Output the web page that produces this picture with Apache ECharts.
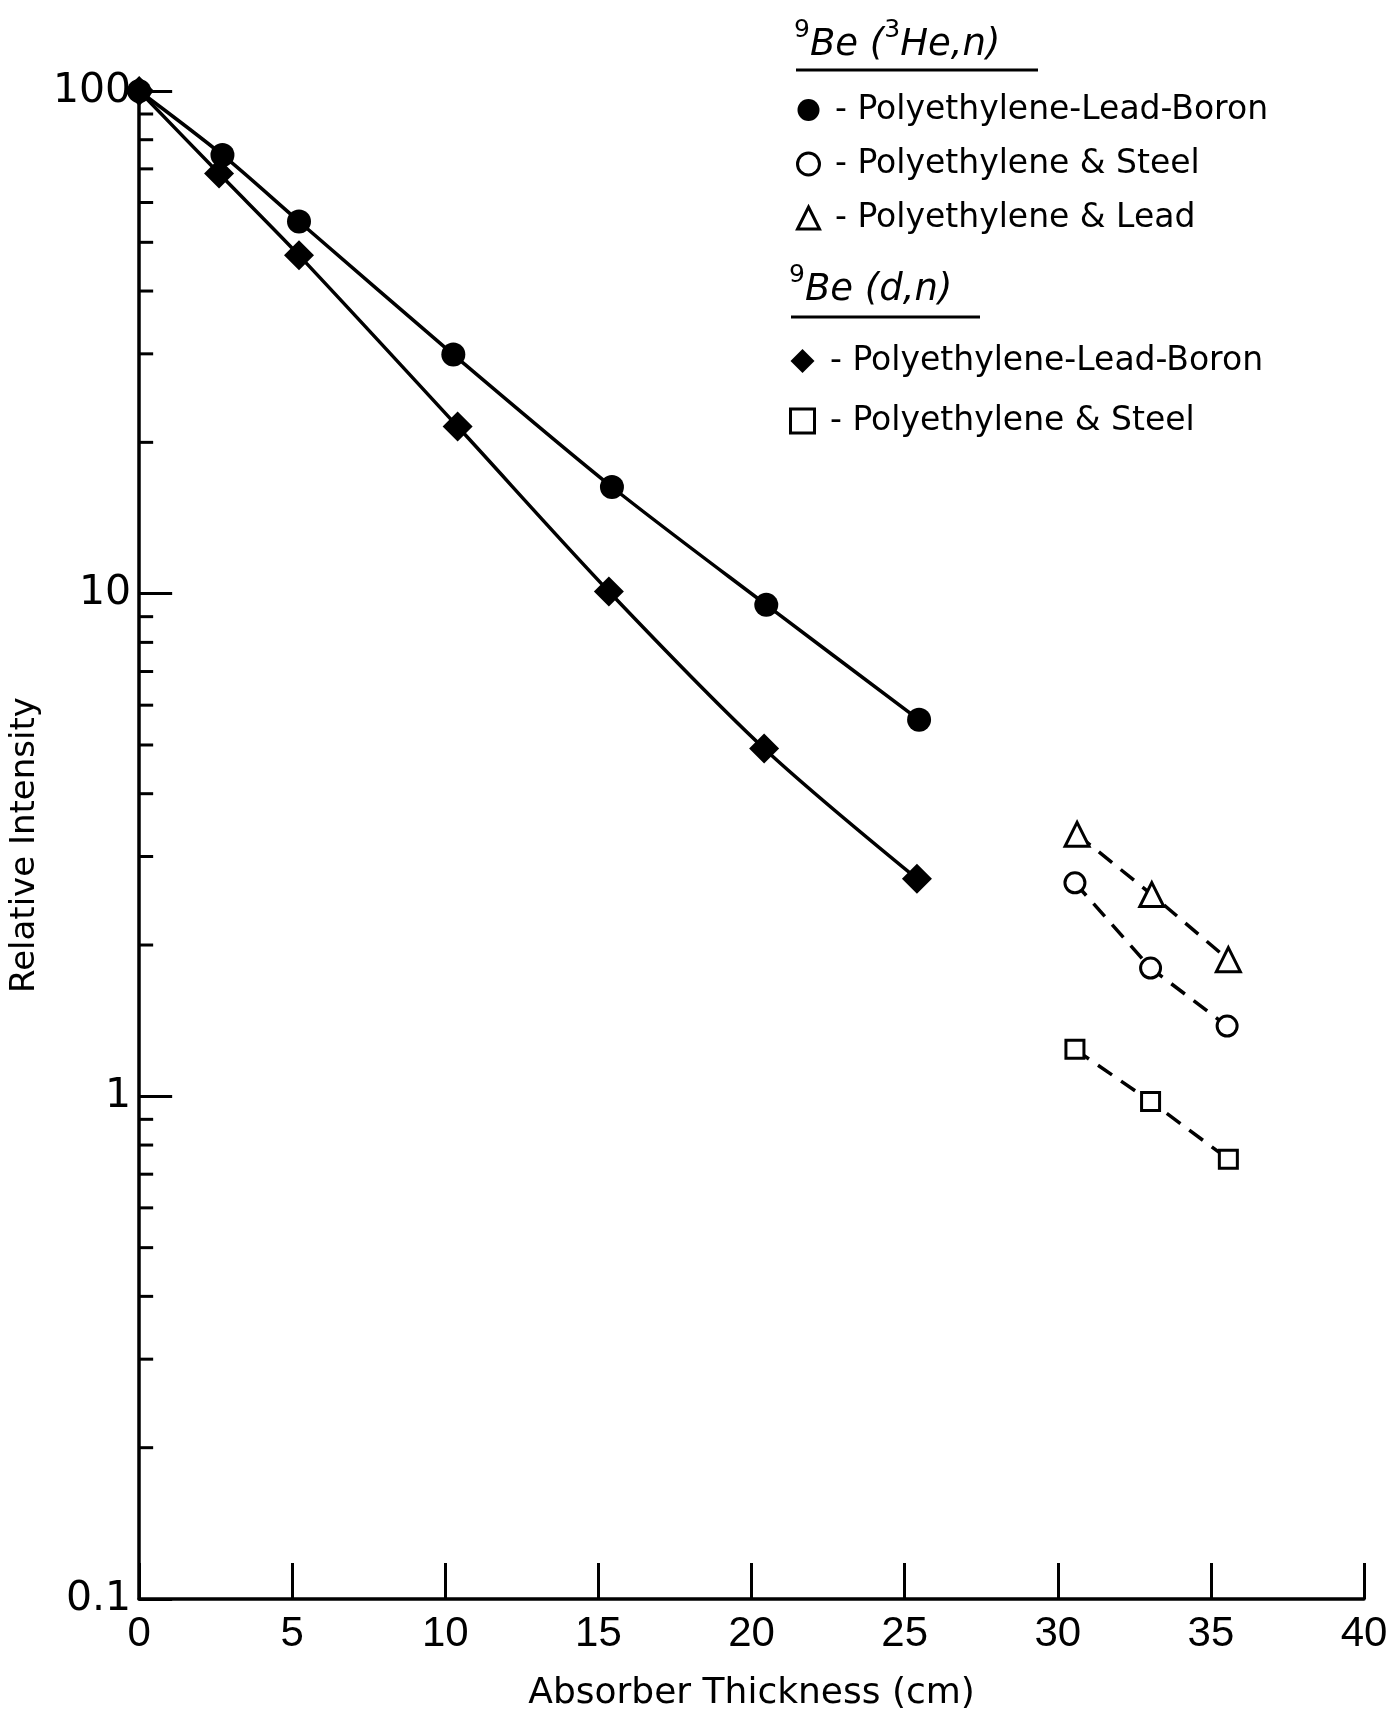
<!DOCTYPE html>
<html>
<head>
<meta charset="utf-8">
<script src="https://cdn.jsdelivr.net/npm/echarts@6/dist/echarts.min.js"></script>
<style>
html,body{margin:0;padding:0;background:#fff;}
#chart{width:1398px;height:1717px;}
</style>
</head>
<body>
<div id="chart"></div>
<script>
// ---- data ----
const xHePLB = [0, 2.72, 5.22, 10.26, 15.44, 20.48, 25.47];
const yHePLB = [100, 74.6, 55.0, 29.9, 16.3, 9.5, 5.61];

const xDnPLB = [0, 2.61, 5.22, 10.40, 15.34, 20.41, 25.4];
const yDnPLB = [100, 68.5, 47.1, 21.5, 10.1, 4.92, 2.71];

const xHeSteel = [30.56, 33.03, 35.53];
const yHeSteel = [2.66, 1.80, 1.38];

const xHeLead = [30.63, 33.07, 35.57];
const yHeLead = [3.32, 2.52, 1.87];

const xDnSteel = [30.56, 33.03, 35.57];
const yDnSteel = [1.24, 0.977, 0.75];

const minorTickValues = [0.2,0.3,0.4,0.5,0.6,0.7,0.8,0.9, 2,3,4,5,6,7,8,9, 20,30,40,50,60,70,80,90];

const legendLabels = {
  hePLB: ' - Polyethylene-Lead-Boron',
  heSteel: ' - Polyethylene & Steel',
  heLead: ' - Polyethylene & Lead',
  dnPLB: ' - Polyethylene-Lead-Boron',
  dnSteel: ' - Polyethylene & Steel'
};

const zip = (xs, ys) => xs.map((x, i) => [x, ys[i]]);
const FONT = 'DejaVu Sans';
const openStyle = {color: '#fff', borderColor: '#000', borderWidth: 3};
const dashLine = {color: '#000', width: 3.5, type: [17, 11]};

const chart = echarts.init(document.getElementById('chart'), null, {renderer: 'canvas'});
chart.setOption({
  backgroundColor: '#fff',
  animation: false,
  grid: {left: 139, right: 34, top: 91, bottom: 110, containLabel: false},
  xAxis: {
    type: 'value', min: 0, max: 40, interval: 5,
    name: 'Absorber Thickness (cm)', nameLocation: 'middle', nameGap: 77,
    nameTextStyle: {fontFamily: FONT, fontSize: 36, color: '#000'},
    axisLine: {lineStyle: {color: '#000', width: 3.5}},
    axisTick: {inside: true, length: 36, lineStyle: {color: '#000', width: 3}},
    axisLabel: {fontFamily: 'Liberation Sans', fontSize: 42, color: '#000', margin: 14},
    splitLine: {show: false}
  },
  yAxis: {
    type: 'log', logBase: 10, min: 0.1, max: 100,
    name: 'Relative Intensity', nameLocation: 'middle', nameGap: 94, nameRotate: 90,
    nameTextStyle: {fontFamily: FONT, fontSize: 34, color: '#000'},
    axisLine: {lineStyle: {color: '#000', width: 3.5}},
    axisTick: {inside: true, length: 33, lineStyle: {color: '#000', width: 3}},
    axisLabel: {fontFamily: FONT, fontSize: 41, color: '#000', margin: 8,
      formatter: v => String(+v.toPrecision(3))},
    splitLine: {show: false},
    minorTick: {show: false}
  },
  legend: [
    {
      orient: 'vertical', left: 791, top: 86, itemWidth: 22, itemHeight: 22, itemGap: 16,
      selectedMode: false,
      textStyle: {fontFamily: FONT, fontSize: 33, lineHeight: 38, color: '#000'},
      formatter: n => legendLabels[n],
      data: [
        {name: 'hePLB', icon: 'circle', itemStyle: {color: '#000', borderWidth: 0}},
        {name: 'heSteel', icon: 'circle', itemStyle: openStyle},
        {name: 'heLead', icon: 'triangle', itemStyle: openStyle}
      ]
    },
    {
      orient: 'vertical', left: 784, top: 337, itemWidth: 24, itemHeight: 24, itemGap: 22,
      selectedMode: false,
      textStyle: {fontFamily: FONT, fontSize: 33, lineHeight: 38, color: '#000'},
      formatter: n => legendLabels[n],
      data: [
        {name: 'dnPLB', icon: 'diamond', itemStyle: {color: '#000', borderWidth: 0}},
        {name: 'dnSteel', icon: 'rect', itemStyle: openStyle}
      ]
    }
  ],
  graphic: [
    {type: 'text', left: 794, top: 18, style: {
      text: '{s|9}{i|Be (}{s|3}{i|He,n)}', fill: '#000',
      rich: {
        s: {fontFamily: FONT, fontSize: 25, verticalAlign: 'top', fill: '#000', lineHeight: 46},
        i: {fontFamily: FONT, fontSize: 37, fontStyle: 'italic', verticalAlign: 'bottom', fill: '#000', lineHeight: 46}
      }}},
    {type: 'line', shape: {x1: 796, y1: 70, x2: 1038, y2: 70}, style: {stroke: '#000', lineWidth: 3}},
    {type: 'text', left: 789, top: 263, style: {
      text: '{s|9}{i|Be (d,n)}', fill: '#000',
      rich: {
        s: {fontFamily: FONT, fontSize: 25, verticalAlign: 'top', fill: '#000', lineHeight: 46},
        i: {fontFamily: FONT, fontSize: 37, fontStyle: 'italic', verticalAlign: 'bottom', fill: '#000', lineHeight: 46}
      }}},
    {type: 'line', shape: {x1: 791, y1: 317, x2: 980, y2: 317}, style: {stroke: '#000', lineWidth: 3}}
  ],
  series: [
    {
      name: 'hePLB', type: 'line', data: zip(xHePLB, yHePLB), smooth: 0.3,
      symbol: 'circle', symbolSize: 24, showAllSymbol: true,
      itemStyle: {color: '#000'}, lineStyle: {color: '#000', width: 3.5}, z: 3
    },
    {
      name: 'dnPLB', type: 'line', data: zip(xDnPLB, yDnPLB), smooth: 0.3,
      symbol: 'diamond', symbolSize: 30, showAllSymbol: true,
      itemStyle: {color: '#000'}, lineStyle: {color: '#000', width: 3.5}, z: 3
    },
    {
      name: 'heSteel', type: 'line', data: zip(xHeSteel, yHeSteel),
      symbol: 'circle', symbolSize: 20, itemStyle: openStyle, lineStyle: dashLine
    },
    {
      name: 'heLead', type: 'line', data: zip(xHeLead, yHeLead),
      symbol: 'triangle', symbolSize: 24, itemStyle: openStyle, lineStyle: dashLine
    },
    {
      name: 'dnSteel', type: 'line', data: zip(xDnSteel, yDnSteel),
      symbol: 'rect', symbolSize: 18, itemStyle: openStyle, lineStyle: dashLine
    },
    {
      name: 'minorTicks', type: 'custom', silent: true, z: 1,
      data: minorTickValues.map(v => [0, v]),
      renderItem: (params, api) => {
        const p = api.coord([0, api.value(1)]);
        return {type: 'line', shape: {x1: p[0], y1: p[1], x2: p[0] + 14, y2: p[1]},
          style: {stroke: '#000', lineWidth: 3}};
      }
    }
  ]
});
</script>
</body>
</html>
